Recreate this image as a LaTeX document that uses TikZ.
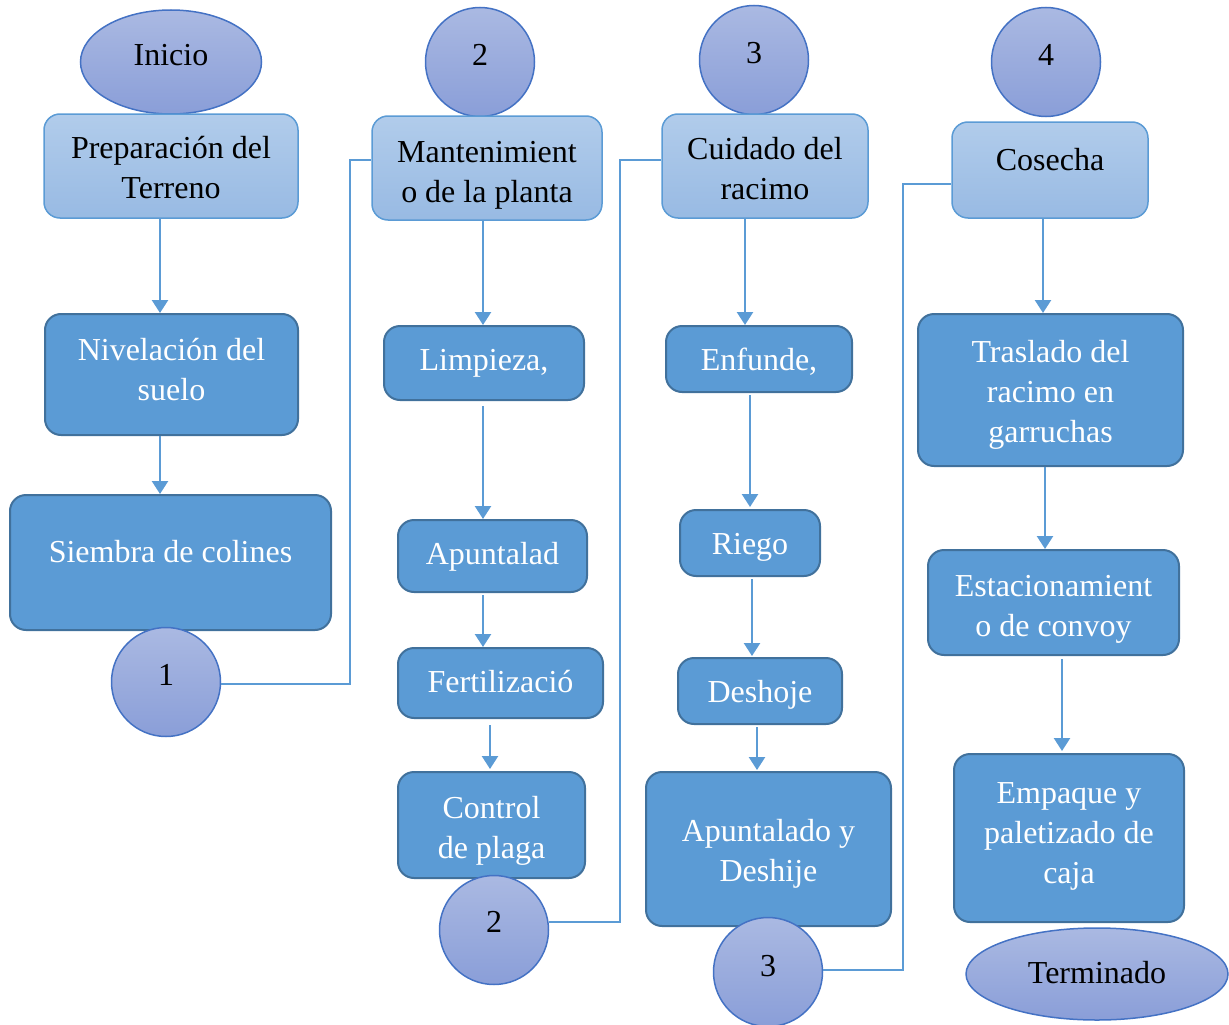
\documentclass[tikz,border=0pt]{standalone}
\usepackage{fontspec}
\setmainfont{Liberation Serif}
\usetikzlibrary{shapes.geometric,arrows.meta}
\definecolor{darkfill}{HTML}{5B9BD5}
\definecolor{darkline}{HTML}{41719C}
\definecolor{lighttop}{HTML}{B1CCEB}
\definecolor{lightbot}{HTML}{98BAE3}
\definecolor{lightline}{HTML}{5B9BD5}
\definecolor{circtop}{HTML}{AAB9E2}
\definecolor{circbot}{HTML}{8A9ED8}
\definecolor{circline}{HTML}{4472C4}
\definecolor{arrcol}{HTML}{5B9BD5}
\newcommand{\mytxt}[2]{\raisebox{\dimexpr#1-1pt\relax}[0pt][0pt]{\begin{tabular}{@{}c@{}}#2\end{tabular}}}
\tikzset{
  base/.style={inner sep=0pt, align=center, font=\fontsize{32}{40}\selectfont},
  darkbox/.style={base, rectangle, rounded corners=16pt, draw=darkline, line width=2pt, fill=darkfill, text=white},
  lightbox/.style={base, rectangle, rounded corners=16pt, draw=lightline, line width=1.5pt, top color=lighttop, bottom color=lightbot, text=black},
  conncirc/.style={base, circle, minimum size=109pt, draw=circline, line width=1.5pt, top color=circtop, bottom color=circbot, text=black},
  termell/.style={base, ellipse, draw=circline, line width=1.5pt, top color=circtop, bottom color=circbot, text=black},
  arr/.style={draw=arrcol, line width=2.5pt, -{Triangle[width=16pt,length=13pt]}},
  conn/.style={draw=arrcol, line width=1.4pt},
}
\begin{document}
\begin{tikzpicture}[x=1pt,y=-1pt]
\useasboundingbox (0,0) rectangle (1229,1025);
% column 1
\node[termell, minimum width=181pt, minimum height=104pt] (inicio) at (171,62) {\mytxt{-1pt}{Inicio}};
\node[lightbox, minimum width=254pt, minimum height=104pt] (prep) at (171,166) {\mytxt{-10pt}{Preparación del\\Terreno}};
\node[darkbox, minimum width=253pt, minimum height=121pt] (niv) at (171.5,374.5) {\mytxt{-3.5pt}{Nivelación del\\suelo}};
\node[darkbox, minimum width=321pt, minimum height=135pt] (siem) at (170.5,562.5) {\mytxt{2.5pt}{Siembra de colines}};
\node[conncirc] (c1) at (166,682) {\mytxt{-1pt}{1}};
% column 2
\node[conncirc] (c2t) at (480,62) {\mytxt{-1pt}{2}};
\node[lightbox, minimum width=230pt, minimum height=104pt] (mant) at (487,168) {\mytxt{-12pt}{Mantenimient\\o de la planta}};
\node[darkbox, minimum width=200pt, minimum height=74pt] (limp) at (484,363) {\mytxt{-5pt}{Limpieza,}};
\node[darkbox, minimum width=189pt, minimum height=72pt] (apun) at (492.5,556) {\mytxt{-6pt}{Apuntalad}};
\node[darkbox, minimum width=205pt, minimum height=70pt] (fert) at (500.5,683) {\mytxt{-7pt}{Fertilizació}};
\node[darkbox, minimum width=187pt, minimum height=106pt] (ctrl) at (491.5,825) {\mytxt{-11pt}{Control\\de plaga}};
\node[conncirc] (c2b) at (494,930) {\mytxt{0pt}{2}};
% column 3
\node[conncirc] (c3t) at (754,60) {\mytxt{-1pt}{3}};
\node[lightbox, minimum width=206pt, minimum height=104pt] (cuid) at (765,166) {\mytxt{-10.5pt}{Cuidado del\\racimo}};
\node[darkbox, minimum width=186pt, minimum height=66pt] (enf) at (759,359) {\mytxt{-9pt}{Enfunde,}};
\node[darkbox, minimum width=140pt, minimum height=66pt] (riego) at (750,543) {\mytxt{-9pt}{Riego}};
\node[darkbox, minimum width=164pt, minimum height=66pt] (desh) at (760,691) {\mytxt{-9pt}{Deshoje}};
\node[darkbox, minimum width=245pt, minimum height=154pt] (apdes) at (768.5,849) {\mytxt{-9.5pt}{Apuntalado y\\Deshije}};
\node[conncirc] (c3b) at (768,972) {\mytxt{-2pt}{3}};
% column 4
\node[conncirc] (c4) at (1046,62) {\mytxt{-1pt}{4}};
\node[lightbox, minimum width=196pt, minimum height=96pt] (cos) at (1050,170) {\mytxt{2pt}{Cosecha}};
\node[darkbox, minimum width=265pt, minimum height=152pt] (tras) at (1050.5,390) {\mytxt{-10pt}{Traslado del\\racimo en\\garruchas}};
\node[darkbox, minimum width=251pt, minimum height=105pt] (est) at (1053.5,602.5) {\mytxt{-11.5pt}{Estacionamient\\o de convoy}};
\node[darkbox, minimum width=230pt, minimum height=168pt] (emp) at (1069,838) {\mytxt{-3pt}{Empaque y\\paletizado de\\caja}};
\node[termell, minimum width=262pt, minimum height=92pt] (term) at (1097,974) {\mytxt{-7pt}{Terminado}};
% arrows
\draw[arr] ([xshift=-11pt]prep.south) -- ([xshift=-11.5pt]niv.north);
\draw[arr] ([xshift=-11.5pt]niv.south) -- ([xshift=-10.5pt]siem.north);
\draw[arr] ([xshift=-4pt]mant.south) -- ([xshift=-1pt]limp.north);
\draw[arr] ([xshift=-1pt,yshift=-5pt]limp.south) -- ([xshift=-9.5pt]apun.north);
\draw[arr] ([xshift=-9.5pt,yshift=-2pt]apun.south) -- ([xshift=-17.5pt]fert.north);
\draw[arr] ([xshift=-10.5pt,yshift=-6pt]fert.south) -- ([xshift=-1.5pt,yshift=2pt]ctrl.north);
\draw[arr] ([xshift=-20pt]cuid.south) -- ([xshift=-14pt]enf.north);
\draw[arr] ([xshift=-9pt,yshift=-2pt]enf.south) -- ([yshift=2pt]riego.north);
\draw[arr] ([xshift=2pt,yshift=-2pt]riego.south) -- ([xshift=-8pt,yshift=1pt]desh.north);
\draw[arr] ([xshift=-3pt,yshift=-2pt]desh.south) -- ([xshift=-11.5pt,yshift=1pt]apdes.north);
\draw[arr] ([xshift=-7pt]cos.south) -- ([xshift=-7.5pt]tras.north);
\draw[arr] ([xshift=-5.5pt]tras.south) -- ([xshift=-8.5pt]est.north);
\draw[arr] ([xshift=8.5pt,yshift=-3pt]est.south) -- ([xshift=-7pt,yshift=2pt]emp.north);
% off-page connectors
\coordinate (k1) at (350,0);
\coordinate (k2) at (620,0);
\coordinate (k3) at (903,0);
\draw[conn] ([yshift=-2pt]c1.east) -- ([yshift=-2pt]c1.east -| k1) |- ([yshift=8pt]mant.west);
\draw[conn] ([yshift=8pt]c2b.east) -- ([yshift=8pt]c2b.east -| k2) |- ([yshift=6pt]cuid.west);
\draw[conn] ([yshift=2pt]c3b.east) -- ([yshift=2pt]c3b.east -| k3) |- ([yshift=-14pt]cos.west);
\end{tikzpicture}
\end{document}
